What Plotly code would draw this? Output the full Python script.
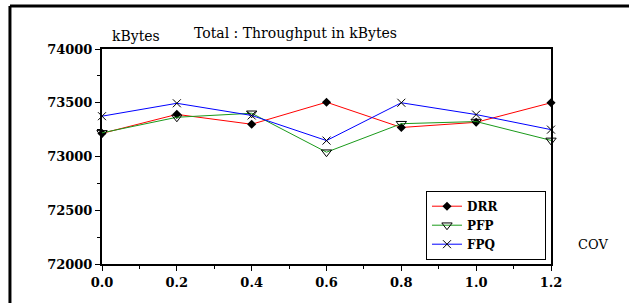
import plotly.graph_objects as go

cov = [0.0, 0.2, 0.4, 0.6, 0.8, 1.0, 1.2]
drr = [73215, 73392, 73300, 73505, 73270, 73318, 73500]
pfp = [73220, 73365, 73402, 73040, 73305, 73325, 73150]
fpq = [73375, 73495, 73382, 73148, 73500, 73390, 73250]

series = [
    ("DRR", drr, "red", dict(symbol="diamond", size=7, color="black")),
    ("PFP", pfp, "#1a9a1a", dict(symbol="triangle-down-open", size=9, color="black", line=dict(width=1, color="black"))),
    ("FPQ", fpq, "blue", dict(symbol="x-thin-open", size=8, color="black", line=dict(width=1, color="black"))),
]

pad = "\u00a0" * 10
fig = go.Figure()
for name, vals, col, mk in series:
    fig.add_trace(go.Scatter(x=cov, y=vals, name=name + pad, mode="lines+markers",
                             line=dict(color=col, width=1), marker=mk, cliponaxis=False))

font_serif = "DejaVu Serif"
tickfont = dict(family=font_serif, size=13, color="black", weight="bold")

fig.update_layout(
    width=629, height=303,
    margin=dict(l=102, r=78, t=49, b=39),
    paper_bgcolor="white", plot_bgcolor="white",
    showlegend=True,
    legend=dict(x=0.7216, y=0.02, xanchor="left", yanchor="bottom",
                bordercolor="black", borderwidth=1, bgcolor="white",
                font=dict(family=font_serif, size=12, color="black", weight="bold"),
                tracegroupgap=0, itemwidth=30),
    xaxis=dict(range=[0, 1.2], tickvals=[0, 0.2, 0.4, 0.6, 0.8, 1.0, 1.2],
               ticktext=["0.0", "0.2", "0.4", "0.6", "0.8", "1.0", "1.2"],
               ticks="outside", ticklen=5, tickwidth=1, tickcolor="black",
               showline=True, linecolor="black", linewidth=2, mirror=True,
               showgrid=False, zeroline=False, tickfont=tickfont,
               minor=dict(ticks="outside", dtick=0.1, ticklen=3, tickcolor="black")),
    yaxis=dict(range=[72000, 74000], tickvals=[72000, 72500, 73000, 73500, 74000],
               ticks="outside", ticklen=5, tickwidth=1, tickcolor="black",
               showline=True, linecolor="black", linewidth=2, mirror=True,
               showgrid=False, zeroline=False, tickfont=tickfont,
               tickformat="d",
               minor=dict(ticks="outside", dtick=250, ticklen=3, tickcolor="black")),
    shapes=[
        dict(type="line", xref="paper", yref="paper", x0=-0.205, x1=-0.205, y0=-0.3, y1=1.2,
             line=dict(color="black", width=3)),
        dict(type="line", xref="paper", yref="paper", x0=-0.205, x1=1.3, y0=1.2, y1=1.2,
             line=dict(color="black", width=3)),
    ],
    annotations=[
        dict(text="Total : Throughput in kBytes", xref="paper", yref="paper",
             x=0.43, y=1.074, xanchor="center", yanchor="middle", showarrow=False,
             font=dict(family=font_serif, size=14, color="black")),
        dict(text="kBytes", xref="paper", yref="paper",
             x=0.018, y=1.012, xanchor="left", yanchor="bottom", showarrow=False,
             font=dict(family=font_serif, size=14, color="black")),
        dict(text="COV", xref="paper", yref="paper",
             x=1.094, y=0.093, xanchor="center", yanchor="middle", showarrow=False,
             font=dict(family=font_serif, size=13, color="black")),
    ],
)

fig.write_html("out.html", config={"displayModeBar": False},
               post_script="document.body.style.margin='0';document.body.style.overflow='hidden';")
